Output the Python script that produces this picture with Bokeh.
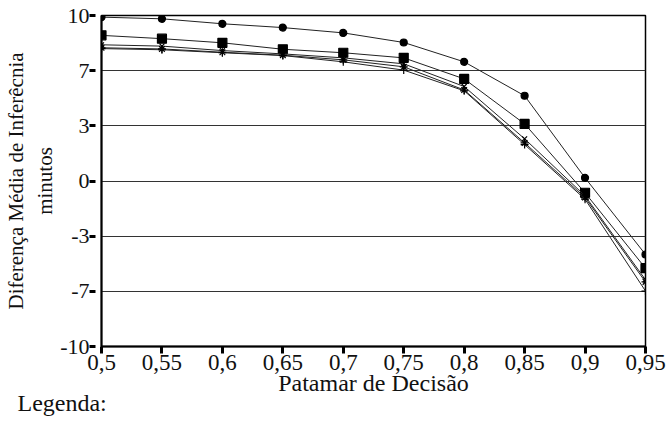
from bokeh.plotting import figure
from bokeh.models import FixedTicker, NumeralTickFormatter, CustomJSTickFormatter, Title, Range1d
from bokeh.embed import file_html
from bokeh.resources import INLINE

x = [0.5, 0.55, 0.6, 0.65, 0.7, 0.75, 0.8, 0.85, 0.9, 0.95]
s_circle = [9.9, 9.8, 9.5, 9.27, 8.95, 8.37, 7.2, 5.15, 0.19, -4.44]
s_square = [8.8, 8.6, 8.35, 7.96, 7.75, 7.44, 6.17, 3.45, -0.71, -5.27]
s_x = [8.23, 8.15, 7.88, 7.68, 7.44, 7.08, 5.71, 2.55, -0.9, -5.97]
s_ast = [8.05, 7.98, 7.78, 7.6, 7.32, 6.9, 5.5, 2.3, -1.0, -6.1]
s_plus = [8.0, 7.93, 7.75, 7.58, 7.2, 6.7, 5.45, 2.2, -1.1, -6.65]

y_ticks = [-10, -20 / 3, -10 / 3, 0, 10 / 3, 20 / 3, 10]
x_ticks = x

FONT = "Liberation Serif"

p = figure(width=666, height=430, output_backend="svg", toolbar_location=None,
           x_range=Range1d(0.5, 0.95), y_range=Range1d(-10, 10),
           min_border_left=101, min_border_right=21, min_border_top=15, min_border_bottom=84)
p.outline_line_color = "black"
p.outline_line_width = 1.5
p.xgrid.visible = False
p.ygrid.grid_line_color = "#333333"
p.ygrid.grid_line_width = 1

series = [(s_circle, "circle"), (s_square, "square"), (s_x, "x"), (s_ast, "asterisk"), (s_plus, "cross")]
sizes = {"circle": 7, "square": 9, "x": 7, "asterisk": 8, "cross": 8}
for ys, m in series:
    p.line(x, ys, line_color="#222222", line_width=1)
    p.scatter(x, ys, marker=m, size=sizes[m], fill_color="black", line_color="black", line_width=1.2)

p.yaxis.ticker = FixedTicker(ticks=y_ticks)
p.yaxis.formatter = NumeralTickFormatter(format="0")
p.xaxis.ticker = FixedTicker(ticks=x_ticks)
p.xaxis.formatter = CustomJSTickFormatter(code="""
let s = tick.toFixed(2);
if (s.endsWith('0')) s = s.slice(0, -1);
return s.replace('.', ',');
""")

for ax in (p.xaxis, p.yaxis):
    ax.axis_line_color = "black"
    ax.axis_line_width = 2
    ax.major_tick_line_color = "black"
    ax.major_tick_line_width = 3
    ax.minor_tick_line_color = None
    ax.major_label_text_font = FONT
    ax.major_label_text_color = "#111111"
    ax.axis_label_text_font = FONT
    ax.axis_label_text_font_style = "normal"
    ax.axis_label_text_color = "#111111"

p.xaxis.major_label_text_font_size = "23px"
p.yaxis.major_label_text_font_size = "22px"
p.xaxis.axis_label_text_font_size = "24px"
p.yaxis.axis_label_text_font_size = "21px"

p.yaxis.major_tick_in = -6
p.yaxis.major_tick_out = 12
p.yaxis.major_label_standoff = 0
p.xaxis.major_tick_in = 0
p.xaxis.major_tick_out = 7
p.xaxis.major_label_standoff = 1

p.xaxis.axis_label = "Patamar de Decisão"
p.xaxis.axis_label_standoff = -3
p.yaxis.axis_label = "Diferença Média de Inferêcnia\nminutos"
p.yaxis.axis_label_standoff = 0

leg = Title(text="Legenda:", align="left", offset=-84, text_font=FONT,
            text_font_size="24px", text_font_style="normal", text_color="#111111", standoff=-22)
p.add_layout(leg, "below")

open("out.html", "w").write(file_html(p, INLINE))
